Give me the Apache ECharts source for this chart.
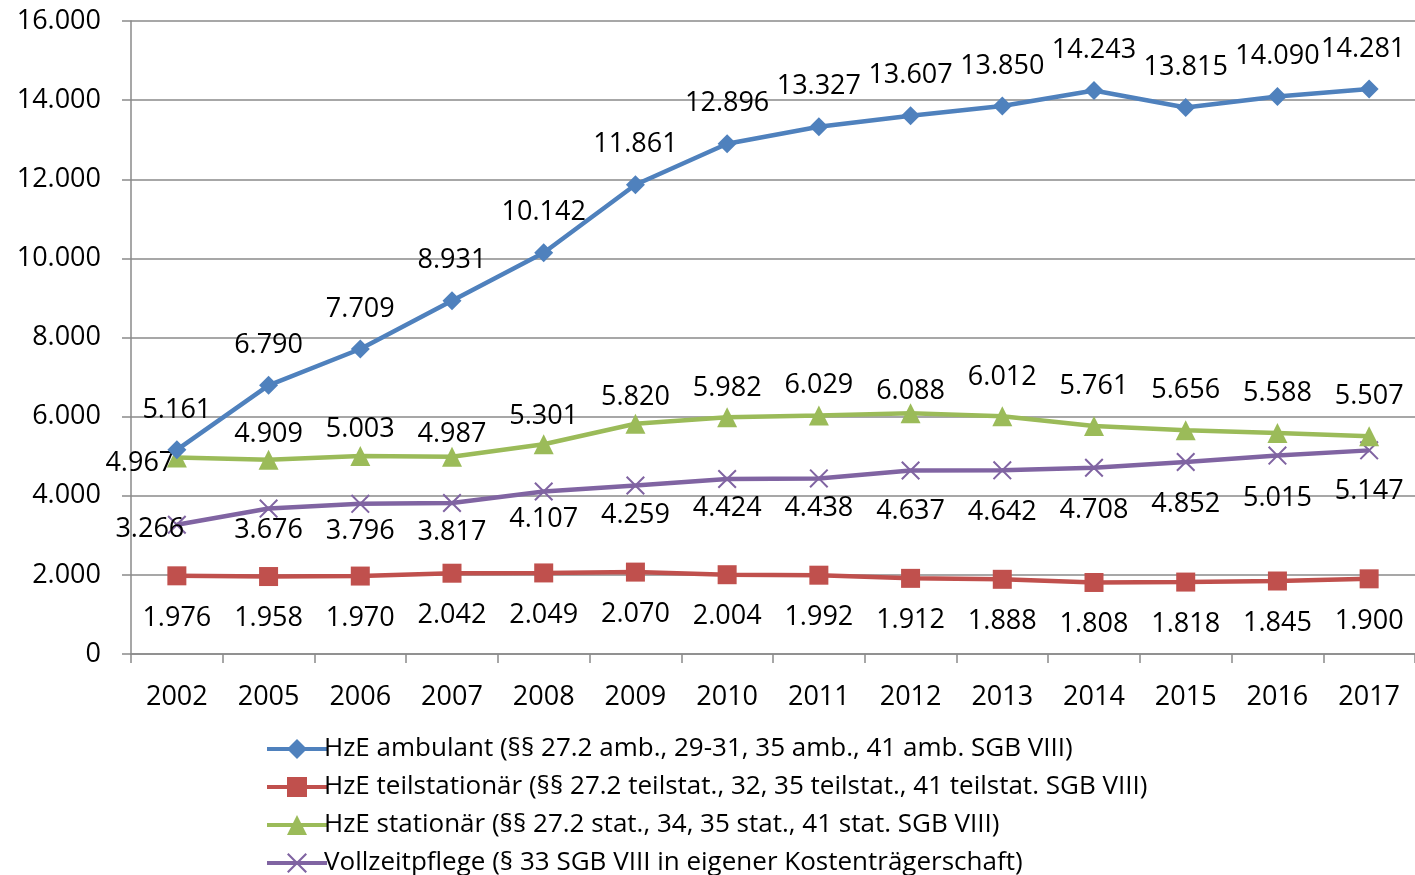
<!DOCTYPE html>
<html><head><meta charset="utf-8">
<script src="https://cdn.jsdelivr.net/npm/echarts@6/dist/echarts.min.js"></script>
<style>html,body{margin:0;padding:0;background:#fff}#c{width:1415px;height:875px}</style>
</head><body><div id="c"></div>
<script>
const years = ['2002','2005','2006','2007','2008','2009','2010','2011','2012','2013','2014','2015','2016','2017'];
const ambulant = [5161,6790,7709,8931,10142,11861,12896,13327,13607,13850,14243,13815,14090,14281];
const teilstationaer = [1976,1958,1970,2042,2049,2070,2004,1992,1912,1888,1808,1818,1845,1900];
const stationaer = [4967,4909,5003,4987,5301,5820,5982,6029,6088,6012,5761,5656,5588,5507];
const vollzeitpflege = [3266,3676,3796,3817,4107,4259,4424,4438,4637,4642,4708,4852,5015,5147];
const seriesNames = [
  'HzE ambulant (§§ 27.2 amb., 29-31, 35 amb., 41 amb. SGB VIII)',
  'HzE teilstationär (§§ 27.2 teilstat., 32, 35 teilstat., 41 teilstat. SGB VIII)',
  'HzE stationär (§§ 27.2 stat., 34, 35 stat., 41 stat. SGB VIII)',
  'Vollzeitpflege (§ 33 SGB VIII in eigener Kostenträgerschaft)'
];
const colors = ['#4F81BD','#C0504D','#9BBB59','#8064A2'];

// label placement (offsets from each point, px)
const offAmb = [[0,-40],[0,-40],[0,-40],[0,-40],[0,-40],[0,-40],[0,-40],[0,-40],[0,-40],[0,-40],[0,-40],[0,-40],[0,-40],[-6,-40]];
const offTeil = years.map(() => [0,42]);
const offStat = [[-37,6],[0,-25],[0,-27],[0,-22],[0,-28],[0,-26],[0,-29],[0,-30],[0,-22],[0,-39],[0,-40],[0,-40],[0,-40],[0,-40]];
const offVoll = [[-27,5],[0,22],[0,27],[0,29],[0,28],[0,30],[0,29],[0,30],[0,41],[0,42],[0,43],[0,42],[0,43],[0,41]];

const FONT = 'Open Sans';
function fmt(v){ return String(Math.round(v)).replace(/\B(?=(\d{3})+(?!\d))/g,'.'); }

const xMark = 'path://M0,1.5 L1.5,0 L10,8.5 L18.5,0 L20,1.5 L11.5,10 L20,18.5 L18.5,20 L10,11.5 L1.5,20 L0,18.5 L8.5,10 Z';
const symbols = ['diamond','rect','triangle', xMark];
const sizes = [19,19,20,19];
const dataSets = [ambulant, teilstationaer, stationaer, vollzeitpflege];
const offsets = [offAmb, offTeil, offStat, offVoll];

const series = dataSets.map((arr, s) => ({
  name: seriesNames[s],
  type: 'line',
  data: arr.map((v, i) => ({ value: v, label: { offset: offsets[s][i] } })),
  symbol: symbols[s],
  symbolSize: sizes[s],
  showAllSymbol: true,
  z: 10 - s,
  lineStyle: { color: colors[s], width: 4.5 },
  itemStyle: { color: colors[s] },
  label: {
    show: true, position: 'inside', color: '#000',
    fontFamily: FONT, fontSize: 27,
    formatter: p => fmt(p.value)
  },
  emphasis: { disabled: true },
  animation: false
}));

const chart = echarts.init(document.getElementById('c'));
chart.setOption({
  animation: false,
  color: colors,
  grid: { left: 131, right: 0, top: 21, bottom: 221, containLabel: false },
  xAxis: {
    type: 'category', data: years, boundaryGap: true,
    axisLine: { lineStyle: { color: '#8a8a8a', width: 1.5 } },
    axisTick: { show: true, interval: 0, length: 9, lineStyle: { color: '#8a8a8a', width: 1.5 } },
    axisLabel: { color: '#000', fontFamily: FONT, fontSize: 27, margin: 30, interval: 0 }
  },
  yAxis: {
    type: 'value', min: 0, max: 16000, interval: 2000,
    axisLine: { show: true, lineStyle: { color: '#8a8a8a', width: 1.5 } },
    axisTick: { show: true, length: 9, lineStyle: { color: '#8a8a8a', width: 1.5 } },
    splitLine: { show: true, lineStyle: { color: '#8a8a8a', width: 1.5 } },
    axisLabel: { color: '#000', fontFamily: FONT, fontSize: 27, margin: 30, formatter: v => fmt(v) }
  },
  legend: {
    orient: 'vertical', left: 265, top: 736, height: 150, padding: 0,
    itemWidth: 60, itemHeight: 25, itemGap: 12,
    lineStyle: { width: 4 },
    textStyle: { color: '#000', fontFamily: FONT, fontSize: 26, lineHeight: 26, padding: [0,0,0,-8] },
    data: seriesNames
  },
  series
});
</script></body></html>
